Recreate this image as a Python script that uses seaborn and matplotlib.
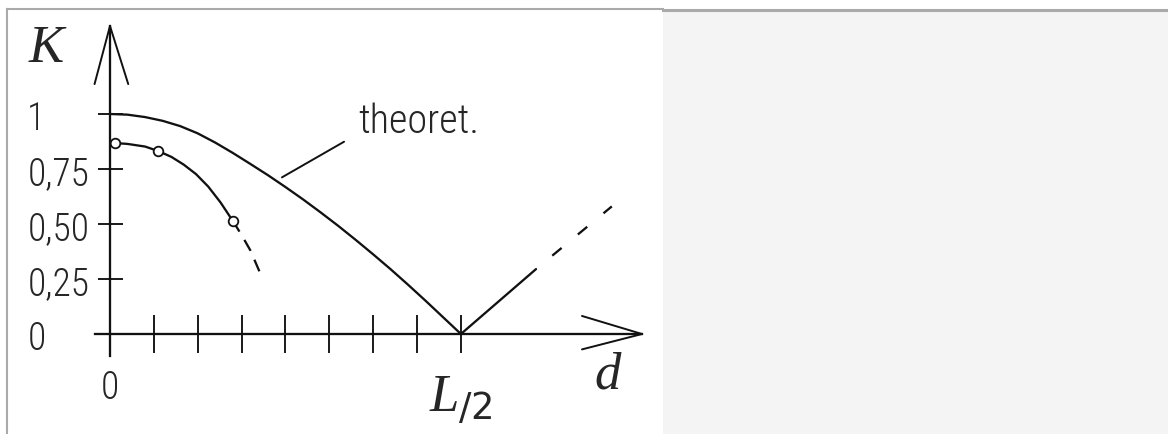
import os
import numpy as np
import matplotlib
matplotlib.use("Agg")
import matplotlib.pyplot as plt
from matplotlib import font_manager
from matplotlib.font_manager import FontProperties
from matplotlib.transforms import ScaledTranslation
import seaborn as sns

# ---- data (d measured in units of L/2, K dimensionless) ----
theory_d = [0.0, 0.05, 0.1, 0.15, 0.2, 0.25, 0.3, 0.35, 0.4, 0.45, 0.5,
            0.55, 0.6, 0.65, 0.7, 0.75, 0.8, 0.85, 0.9, 0.95, 1.0]
theory_K = [1.0, 0.997, 0.986, 0.969, 0.945, 0.912, 0.870, 0.823, 0.773, 0.722, 0.668,
            0.612, 0.553, 0.492, 0.428, 0.362, 0.294, 0.223, 0.150, 0.075, 0.0]

rise_d = [1.0, 1.214]
rise_K = [0.0, 0.295]
rise_ext_d = [1.214, 1.43]
rise_ext_K = [0.295, 0.58]

meas_curve_d = [0.014, 0.05, 0.1, 0.137, 0.175, 0.21, 0.245, 0.28, 0.315, 0.35]
meas_curve_K = [0.868, 0.864, 0.852, 0.832, 0.805, 0.770, 0.727, 0.670, 0.598, 0.514]
meas_ext_d = [0.35, 0.375, 0.4, 0.427]
meas_ext_K = [0.514, 0.45, 0.38, 0.28]

meas_pts_d = [0.014, 0.137, 0.35]
meas_pts_K = [0.868, 0.832, 0.514]

x_ticks = [0, 0.125, 0.25, 0.375, 0.5, 0.625, 0.75, 0.875, 1.0]
x_ticklabels = ["0", "", "", "", "", "", "", "", r"$\mathit{L}_{/2}$"]
y_ticks = [0, 0.25, 0.5, 0.75, 1.0]
y_ticklabels = ["0", "0,25", "0,50", "0,75", "1"]

leader_d = [0.49, 0.667]
leader_K = [0.712, 0.874]


def find_font(patterns):
    files = [f.fname for f in font_manager.fontManager.ttflist]
    for pat in patterns:
        for path in files:
            if os.path.basename(path).lower().startswith(pat.lower()):
                return path
    return None


# ---- style ----
sns.set_theme(style="white")
names = {f.name for f in font_manager.fontManager.ttflist}
SERIF = "Liberation Serif" if "Liberation Serif" in names else "DejaVu Serif"
narrow_path = find_font([
    "LiberationSansNarrow-Regular", "RobotoCondensed-Light.", "RobotoCondensed-Regular.",
    "NotoSans-CondensedLight.", "NotoSans-Condensed.", "OpenSans-CondensedLight.",
    "OpenSans_Condensed-Light", "OpenSans-Condensed", "DejaVuSansCondensed.",
])
plt.rcParams["font.family"] = ["DejaVu Sans"]
plt.rcParams["mathtext.fontset"] = "custom"
plt.rcParams["mathtext.it"] = f"{SERIF}:italic"
plt.rcParams["mathtext.rm"] = "DejaVu Sans"
plt.rcParams["mathtext.default"] = "rm"


def sans(size):
    if narrow_path:
        return FontProperties(fname=narrow_path, size=size)
    return FontProperties(family="DejaVu Sans", size=size * 0.85)


INK = "#111111"
TXT = "#262626"
LW = 1.65

fig = plt.figure(figsize=(11.68, 4.35), dpi=100, facecolor="white")
W, H = 1168, 435

# white drawing sheet with grey border (top + left)
sheet = fig.add_axes([7 / W, 0, (663 - 7) / W, (H - 10) / H])
sheet.set_facecolor("white")
sheet.set_xticks([]); sheet.set_yticks([])
for side in ("right", "bottom"):
    sheet.spines[side].set_visible(False)
for side in ("top", "left"):
    sheet.spines[side].set_color("#aaaaaa")
    sheet.spines[side].set_linewidth(1.5)

# empty grey side panel
side_panel = fig.add_axes([663 / W, 0, (W - 663) / W, (H - 10.5) / H])
side_panel.set_facecolor("#f4f4f4")
side_panel.set_xticks([]); side_panel.set_yticks([])
for side in ("right", "bottom", "left"):
    side_panel.spines[side].set_visible(False)
side_panel.spines["top"].set_color("#aaaaaa")
side_panel.spines["top"].set_linewidth(2.2)

# main diagram axes
xlim = (-0.043, 1.516)
ylim = (-0.1, 1.4)
ax = fig.add_axes([94.9 / W, (H - 357) / H, (642 - 94.9) / W, (357 - 27) / H])
ax.set_facecolor("none")
ax.set_xlim(*xlim)
ax.set_ylim(*ylim)

sns.lineplot(x=theory_d, y=theory_K, ax=ax, color=INK, linewidth=LW,
             estimator=None, sort=False)
sns.lineplot(x=rise_d, y=rise_K, ax=ax, color=INK, linewidth=LW,
             estimator=None, sort=False)
sns.lineplot(x=rise_ext_d, y=rise_ext_K, ax=ax, color=INK, linewidth=LW,
             estimator=None, sort=False, linestyle=(5.3, (5.3, 9.2)))
sns.lineplot(x=meas_curve_d, y=meas_curve_K, ax=ax, color=INK, linewidth=LW,
             estimator=None, sort=False)
sns.lineplot(x=meas_ext_d, y=meas_ext_K, ax=ax, color=INK, linewidth=LW,
             estimator=None, sort=False, linestyle=(0, (5.5, 4.2)))
sns.scatterplot(x=meas_pts_d, y=meas_pts_K, ax=ax, marker="o", s=48,
                facecolor="white", edgecolor=INK, linewidth=1.3, zorder=5)

# label with leader line
sns.lineplot(x=leader_d, y=leader_K, ax=ax, color=INK, linewidth=1.4,
             estimator=None, sort=False)
ax.text(0.707, 0.918, "theoret.", fontproperties=sans(29), color=TXT,
        ha="left", va="baseline")

# axes as arrows through the origin
for side in ("top", "right"):
    ax.spines[side].set_visible(False)
for side in ("left", "bottom"):
    ax.spines[side].set_position(("data", 0))
    ax.spines[side].set_color(INK)
    ax.spines[side].set_linewidth(LW)

ax.plot([-0.044, 0, 0.052], [1.136, ylim[1], 1.136], color=INK, lw=1.4,
        clip_on=False, solid_joinstyle="miter")
ax.plot([1.345, xlim[1], 1.345], [0.082, 0, -0.07], color=INK, lw=1.4,
        clip_on=False, solid_joinstyle="miter")

ax.set_xticks(x_ticks, x_ticklabels)
ax.set_yticks(y_ticks, y_ticklabels)
ax.tick_params(axis="x", which="major", bottom=True, direction="inout", length=28,
               width=1.35, color=INK, pad=11, labelcolor=TXT)
ax.tick_params(axis="y", which="major", left=True, direction="inout", length=18,
               width=1.35, color=INK, pad=50.5, labelcolor=TXT)
for lab in ax.get_yticklabels():
    lab.set_fontproperties(sans(27))
    lab.set_horizontalalignment("left")
xlabs = ax.get_xticklabels()
for lab in xlabs[:-1]:
    lab.set_fontproperties(sans(27))
xlabs[-1].set_fontsize(38)
xlabs[-1].set_transform(xlabs[-1].get_transform()
                        + ScaledTranslation(0, -5 / 100, fig.dpi_scale_trans))

ax.set_ylabel("K", fontsize=38, family=SERIF, style="italic", color=TXT,
              rotation=0, ha="center", va="center")
ax.yaxis.set_label_coords(-0.0896, 0.933)
ax.set_xlabel("d", fontsize=38, family=SERIF, style="italic", color=TXT,
              ha="center", va="center")
ax.xaxis.set_label_coords(0.938, -0.055)

fig.savefig("out.png", dpi=100, facecolor="white")
